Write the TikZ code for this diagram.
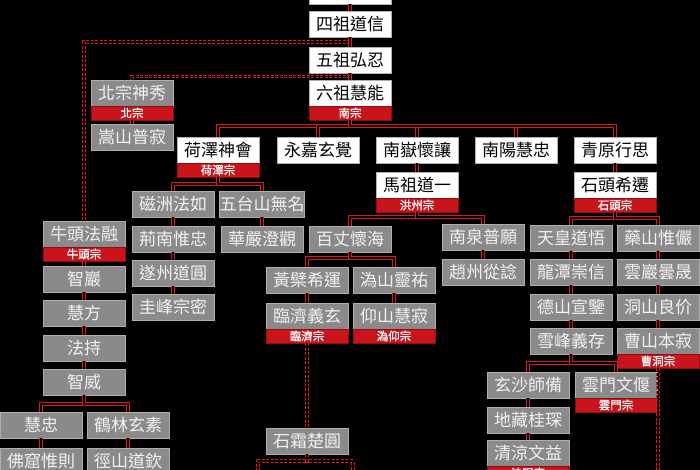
\documentclass[tikz,border=0pt]{standalone}
\usepackage{fontspec}
\newfontfamily\cjk{Noto Sans CJK TC}
\newfontfamily\cjkbold[FakeBold=1.2]{Noto Sans CJK TC}
\usetikzlibrary{calc,positioning}
\definecolor{zongred}{RGB}{200,20,26}
\definecolor{linkred}{RGB}{220,25,30}
\definecolor{boxgray}{RGB}{138,138,138}
\definecolor{boxtext}{RGB}{242,242,242}
\definecolor{boxedge}{RGB}{175,175,175}

\tikzset{
  cbox/.style={rectangle, minimum width=82pt, minimum height=26pt, inner sep=0pt, outer sep=0pt,
    draw=boxedge, line width=0.9pt, font=\cjk\fontsize{17}{17}\selectfont},
  whitebox/.style={cbox, fill=white, text=black},
  graybox/.style={cbox, fill=boxgray, text=boxtext},
  zong/.style={rectangle, minimum width=82pt, minimum height=14pt, inner sep=0pt, outer sep=0pt,
    fill=zongred, draw=zongred!70!black, line width=0.6pt, text=white, font=\cjkbold\fontsize{11.5}{11.5}\selectfont},
  link/.style={draw=linkred, double=black, double distance=1.6pt, line width=1.1pt},
  dlink/.style={link, dash pattern=on 3pt off 1.5pt}
}

\begin{document}
\begin{tikzpicture}[x=1pt,y=-1pt]
\useasboundingbox (0,0) rectangle (700,470);
\clip (0,0) rectangle (700,470);
\fill[black] (0,0) rectangle (700,470);

% main line
\node[whitebox] (sanzu) at (350,-9) {};
\node[whitebox] (sizu) at (350,24) {四祖道信};
\node[whitebox] (wuzu) at (350,60) {五祖弘忍};
\node[whitebox] (liuzu) at (350,93) {六祖慧能};
\node[zong, below=0pt of liuzu] (nanzong) {南宗};

\node[graybox] (beixiu) at (132,93) {北宗神秀};
\node[zong, below=0pt of beixiu] (beizong) {北宗};
\node[graybox] (puji) at (132,137) {嵩山普寂};

\node[whitebox] (heze) at (218,150) {荷澤神會};
\node[zong, below=0pt of heze] (hezezong) {荷澤宗};
\node[whitebox] (yongjia) at (318,150) {永嘉玄覺};
\node[whitebox] (huairang) at (417,150) {南嶽懷讓};
\node[whitebox] (nanyang) at (516,150) {南陽慧忠};
\node[whitebox] (qingyuan) at (615,150) {青原行思};

\node[whitebox] (mazu) at (417,185) {馬祖道一};
\node[zong, below=0pt of mazu] (hongzhou) {洪州宗};
\node[whitebox] (shitou) at (615,185) {石頭希遷};
\node[zong, below=0pt of shitou] (shitouzong) {石頭宗};

% heze
\node[graybox] (cizhou) at (173,204) {磁洲法如};
\node[graybox] (wutai) at (262,204) {五台山無名};
\node[graybox] (jingnan) at (173,239) {荊南惟忠};
\node[graybox] (huayan) at (262,239) {華嚴澄觀};
\node[graybox] (suizhou) at (173,273) {遂州道圓};
\node[graybox] (guifeng) at (173,307) {圭峰宗密};

% niutou
\node[graybox] (niutou) at (84,234) {牛頭法融};
\node[zong, below=0pt of niutou] (niutouzong) {牛頭宗};
\node[graybox] (zhiyan) at (84,279) {智巖};
\node[graybox] (huifang) at (84,313) {慧方};
\node[graybox] (fachi) at (84,348) {法持};
\node[graybox] (zhiwei) at (84,382) {智威};
\node[graybox] (huizhong) at (41,425) {慧忠};
\node[graybox] (helin) at (128,425) {鶴林玄素};
\node[graybox] (foku) at (41,461) {佛窟惟則};
\node[graybox] (jingshan) at (128,461) {徑山道欽};

% mazu
\node[graybox] (baizhang) at (350,239) {百丈懷海};
\node[graybox] (nanquan) at (483,237) {南泉普願};
\node[graybox] (zhaozhou) at (483,272) {趙州從諗};
\node[graybox] (huangbo) at (307,280) {黃檗希運};
\node[graybox] (guishan) at (394,280) {溈山靈祐};
\node[graybox] (linji) at (307,316) {臨濟義玄};
\node[zong, below=0pt of linji] (linjizong) {臨濟宗};
\node[graybox] (yangshan) at (394,316) {仰山慧寂};
\node[zong, below=0pt of yangshan] (guiyang) {溈仰宗};
\node[graybox] (shishuang) at (307,441) {石霜楚圓};

% shitou
\node[graybox] (tianhuang) at (571,238) {天皇道悟};
\node[graybox] (yaoshan) at (658,238) {藥山惟儼};
\node[graybox] (longtan) at (571,272) {龍潭崇信};
\node[graybox] (yunyan) at (658,272) {雲巖曇晟};
\node[graybox] (deshan) at (571,307) {德山宣鑒};
\node[graybox] (dongshan) at (658,307) {洞山良价};
\node[graybox] (xuefeng) at (571,341) {雪峰義存};
\node[graybox] (caoshan) at (658,341) {曹山本寂};
\node[zong, below=0pt of caoshan] (caodong) {曹洞宗};
\node[graybox] (xuansha) at (528,385) {玄沙師備};
\node[graybox] (yunmen) at (616,385) {雲門文偃};
\node[zong, below=0pt of yunmen] (yunmenzong) {雲門宗};
\node[graybox] (dizang) at (528,420) {地藏桂琛};
\node[graybox] (qingliang) at (528,453) {清涼文益};
\node[zong, below=0pt of qingliang] (fayan) {法眼宗};

\coordinate (fork1) at ($(sizu.south)!.5!(wuzu.north)$);
\coordinate (fork2) at ($(wuzu.south)!.5!(liuzu.north)$);
\coordinate (sub1) at (258,480);
\coordinate (sub2) at (353,480);
\coordinate (caodongend) at (658,480);

\draw[dlink] (fork1) -| (niutou.north);
\draw[dlink] (fork2) -| (beixiu.north);
\draw[dlink] (linjizong.south) -- (shishuang.north);
\draw[dlink] (shishuang.south) -- ++(0,7) -| (sub1);
\draw[dlink] (shishuang.south) -- ++(0,7) -| (sub2);
\draw[dlink] (caodong.south) -- (caodongend);

\draw[link] (sanzu.south) -- (sizu.north);
\draw[link] (sizu.south) -- (wuzu.north);
\draw[link] (wuzu.south) -- (liuzu.north);
\draw[link] (beizong.south) -- (puji.north);

\draw[link] (nanzong.south) -- ++(0,6) -| (heze.north);
\draw[link] (nanzong.south) -- ++(0,6) -| (yongjia.north);
\draw[link] (nanzong.south) -- ++(0,6) -| (huairang.north);
\draw[link] (nanzong.south) -- ++(0,6) -| (nanyang.north);
\draw[link] (nanzong.south) -- ++(0,6) -| (qingyuan.north);
\draw[link] (huairang.south) -- (mazu.north);
\draw[link] (qingyuan.south) -- (shitou.north);

\draw[link] (hezezong.south) -- ++(0,7) -| (cizhou.north);
\draw[link] (hezezong.south) -- ++(0,7) -| (wutai.north);
\draw[link] (cizhou.south) -- (jingnan.north);
\draw[link] (jingnan.south) -- (suizhou.north);
\draw[link] (suizhou.south) -- (guifeng.north);
\draw[link] (wutai.south) -- (huayan.north);

\draw[link] (niutouzong.south) -- (zhiyan.north);
\draw[link] (zhiyan.south) -- (huifang.north);
\draw[link] (huifang.south) -- (fachi.north);
\draw[link] (fachi.south) -- (zhiwei.north);
\draw[link] (zhiwei.south) -- ++(0,9) -| (huizhong.north);
\draw[link] (zhiwei.south) -- ++(0,9) -| (helin.north);
\draw[link] (huizhong.south) -- (foku.north);
\draw[link] (helin.south) -- (jingshan.north);

\draw[link] (hongzhou.south) -- ++(0,5) -| (baizhang.north);
\draw[link] (hongzhou.south) -- ++(0,5) -| (nanquan.north);
\draw[link] (nanquan.south) -- (zhaozhou.north);
\draw[link] (baizhang.south) -- ++(0,6) -| (huangbo.north);
\draw[link] (baizhang.south) -- ++(0,6) -| (guishan.north);
\draw[link] (huangbo.south) -- (linji.north);
\draw[link] (guishan.south) -- (yangshan.north);

\draw[link] (shitouzong.south) -- ++(0,6) -| (tianhuang.north);
\draw[link] (shitouzong.south) -- ++(0,6) -| (yaoshan.north);
\draw[link] (tianhuang.south) -- (longtan.north);
\draw[link] (longtan.south) -- (deshan.north);
\draw[link] (deshan.south) -- (xuefeng.north);
\draw[link] (yaoshan.south) -- (yunyan.north);
\draw[link] (yunyan.south) -- (dongshan.north);
\draw[link] (dongshan.south) -- (caoshan.north);
\draw[link] (xuefeng.south) -- ++(0,9) -| (xuansha.north);
\draw[link] (xuefeng.south) -- ++(0,9) -| (yunmen.north);
\draw[link] (xuansha.south) -- (dizang.north);
\draw[link] (dizang.south) -- (qingliang.north);
\end{tikzpicture}
\end{document}
